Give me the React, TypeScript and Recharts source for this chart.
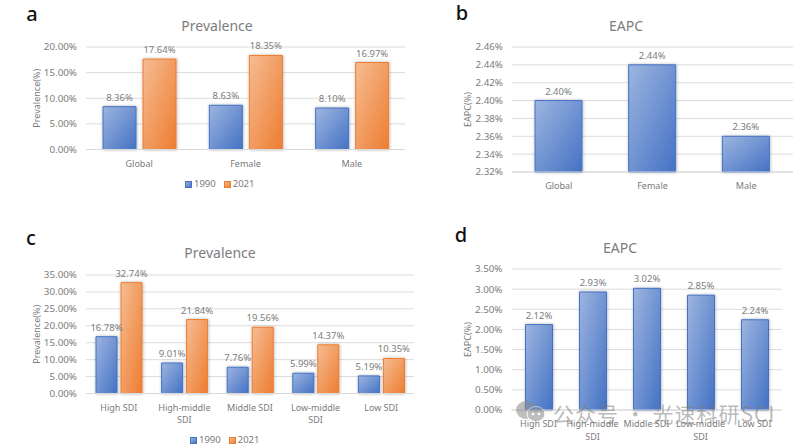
import React from "react";
import { BarChart, Bar, XAxis, YAxis, CartesianGrid, LabelList, Legend, Label } from "recharts";

const catsOverall = ["Global", "Female", "Male"];
const prev1990Overall = [8.36, 8.63, 8.1];
const prev2021Overall = [17.64, 18.35, 16.97];
const eapcOverall = [2.4, 2.44, 2.36];
const catsSdi = ["High SDI", "High-middle SDI", "Middle SDI", "Low-middle SDI", "Low SDI"];
const prev1990Sdi = [16.78, 9.01, 7.76, 5.99, 5.19];
const prev2021Sdi = [32.74, 21.84, 19.56, 14.37, 10.35];
const eapcSdi = [2.12, 2.93, 3.02, 2.85, 2.24];
const ticksA = [0, 5, 10, 15, 20];
const ticksB = [2.32, 2.34, 2.36, 2.38, 2.4, 2.42, 2.44, 2.46];
const ticksC = [0, 5, 10, 15, 20, 25, 30, 35];
const ticksD = [0, 0.5, 1, 1.5, 2, 2.5, 3, 3.5];

const FONT = "'Noto Sans', sans-serif";
const GRAY = "#7c7c7c";
const pct = (v: number) => `${v.toFixed(2)}%`;

const wrapLabel = (s: string) => {
  const m = s.match(/^(.*-middle) (SDI)$/);
  return m ? [m[1], m[2]] : [s];
};

function XTick(props: any) {
  const { x, y, payload } = props;
  return (
    <text x={x} y={y + 9} textAnchor="middle" fontSize={9} fill={GRAY} fontFamily={FONT}>
      {wrapLabel(payload.value).map((l, i) => (
        <tspan key={i} x={x} dy={i === 0 ? 0 : 12.5}>{l}</tspan>
      ))}
    </text>
  );
}

function LegendContent(props: any) {
  const { payload } = props;
  return (
    <div style={{ display: "flex", alignItems: "center", fontFamily: FONT, fontSize: 9.5, color: GRAY, lineHeight: "12px" }}>
      {(payload ?? []).map((e: any, i: number) => (
        <div key={i} style={{ display: "flex", alignItems: "center", marginRight: 8 }}>
          <svg width={7} height={7} style={{ marginRight: 2 }}>
            <rect x={0.5} y={0.5} width={6} height={6} fill={e.color} stroke={e.payload?.stroke} strokeWidth={1} />
          </svg>
          <span>{e.value}</span>
        </div>
      ))}
    </div>
  );
}

function Defs({ id }: { id: string }) {
  return (
    <defs>
      <linearGradient id={`blue${id}`} x1="0" y1="0" x2="1" y2="1">
        <stop offset="0%" stopColor="#9DB5E0" />
        <stop offset="100%" stopColor="#4472C4" />
      </linearGradient>
      <linearGradient id={`orange${id}`} x1="0" y1="0" x2="1" y2="1">
        <stop offset="0%" stopColor="#F6BC92" />
        <stop offset="100%" stopColor="#ED7D31" />
      </linearGradient>
      <filter id={`sh${id}`} x="-20%" y="-10%" width="140%" height="120%">
        <feDropShadow dx="0.5" dy="0" stdDeviation="1.4" floodColor="#000" floodOpacity="0.3" />
      </filter>
    </defs>
  );
}

type PanelProps = {
  id: string; left: number; top: number; width: number; height: number;
  plotLeft: number; plotRight: number; plotTop: number; plotBottom: number;
  cats: string[]; a: number[]; b?: number[]; ticks: number[]; domain: [number, number];
  yLabel: string; yLabelX: number; barSize: number; barGap?: number;
  legendLeft?: number; legendTop?: number;
};

function Panel(p: PanelProps) {
  const data = p.cats.map((c, i) => ({ c, y1990: p.a[i], y2021: p.b ? p.b[i] : undefined }));
  return (
    <div style={{ position: "absolute", left: p.left, top: p.top }}>
      <BarChart
        width={p.width}
        height={p.height}
        data={data}
        barSize={p.barSize}
        barGap={p.barGap ?? 4}
        margin={{ left: 0, top: p.plotTop - p.top, right: p.left + p.width - p.plotRight, bottom: 0 }}
      >
        <Defs id={p.id} />
        <CartesianGrid vertical={false} stroke="#dcdcdc" strokeWidth={1} />
        <XAxis
          dataKey="c"
          interval={0}
          height={p.top + p.height - p.plotBottom}
          tick={<XTick />}
          tickLine={false}
          axisLine={{ stroke: "#d9d9d9" }}
        />
        <YAxis
          width={p.plotLeft - p.left}
          domain={p.domain}
          ticks={p.ticks}
          interval={0}
          tickFormatter={pct}
          tick={{ fontSize: 9.8, fill: GRAY, fontFamily: FONT }}
          tickLine={false}
          axisLine={false}
          tickMargin={3}
        >
          <Label
            value={p.yLabel}
            angle={-90}
            position="insideLeft"
            offset={p.yLabelX - p.left}
            style={{ fontSize: 9, fill: GRAY, fontFamily: FONT, textAnchor: "middle" }}
          />
        </YAxis>
        {p.b && (
          <Legend
            verticalAlign="middle"
            align="center"
            content={<LegendContent />}
            wrapperStyle={{ position: "absolute", left: p.legendLeft, top: p.legendTop, width: 90 }}
          />
        )}
        <Bar
          dataKey="y1990"
          name="1990"
          fill={`url(#blue${p.id})`}
          stroke="#4472C4"
          strokeWidth={1}
          filter={`url(#sh${p.id})`}
          isAnimationActive={false}
        >
          <LabelList dataKey="y1990" position="top" offset={6} formatter={pct as any} style={{ fontSize: 9.5, fill: GRAY, fontFamily: FONT }} />
        </Bar>
        {p.b && (
          <Bar
            dataKey="y2021"
            name="2021"
            fill={`url(#orange${p.id})`}
            stroke="#ED7D31"
            strokeWidth={1}
            filter={`url(#sh${p.id})`}
            isAnimationActive={false}
          >
            <LabelList dataKey="y2021" position="top" offset={6} formatter={pct as any} style={{ fontSize: 9.5, fill: GRAY, fontFamily: FONT }} />
          </Bar>
        )}
      </BarChart>
    </div>
  );
}

function Caption({ text, x, y, size, color, weight }: { text: string; x: number; y: number; size: number; color: string; weight?: number }) {
  return (
    <div style={{
      position: "absolute", left: x - 100, top: y - size / 2, width: 200, height: size, lineHeight: `${size}px`,
      textAlign: "center", fontSize: size, color, fontWeight: weight ?? 400, fontFamily: FONT,
    }}>{text}</div>
  );
}

export default function App() {
  return (
    <div style={{ position: "absolute", left: 0, top: 0, width: 795, height: 447, background: "#fff", overflow: "hidden" }}>
      <Panel id="a" left={0} top={20} width={420} height={175}
        plotLeft={86} plotRight={405} plotTop={47} plotBottom={149.5}
        cats={catsOverall} a={prev1990Overall} b={prev2021Overall} ticks={ticksA} domain={[0, 20]}
        yLabel="Prevalence(%)" yLabelX={37} barSize={33} barGap={7} legendLeft={185} legendTop={158} />
      <Panel id="b" left={425} top={20} width={370} height={175}
        plotLeft={512} plotRight={793} plotTop={47} plotBottom={172}
        cats={catsOverall} a={eapcOverall} ticks={ticksB} domain={[2.32, 2.46]}
        yLabel="EAPC(%)" yLabelX={468} barSize={47} />
      <Panel id="c" left={0} top={245} width={430} height={202}
        plotLeft={86} plotRight={414} plotTop={275} plotBottom={393.5}
        cats={catsSdi} a={prev1990Sdi} b={prev2021Sdi} ticks={ticksC} domain={[0, 35]}
        yLabel="Prevalence(%)" yLabelX={37} barSize={21} barGap={4} legendLeft={190} legendTop={189} />
      <Panel id="d" left={425} top={245} width={370} height={202}
        plotLeft={511.5} plotRight={781.5} plotTop={269} plotBottom={410}
        cats={catsSdi} a={eapcSdi} ticks={ticksD} domain={[0, 3.5]}
        yLabel="EAPC(%)" yLabelX={468} barSize={27} />
      <Caption text="Prevalence" x={217} y={26} size={14} color={GRAY} />
      <Caption text="EAPC" x={626} y={26} size={14} color={GRAY} />
      <Caption text="Prevalence" x={220} y={253} size={14} color={GRAY} />
      <Caption text="EAPC" x={620} y={248} size={14} color={GRAY} />
      <Caption text="a" x={32} y={14} size={20} color="#111" weight={500} />
      <Caption text="b" x={462} y={13} size={20} color="#111" weight={500} />
      <Caption text="c" x={31} y={238} size={20} color="#111" weight={500} />
      <Caption text="d" x={461} y={235} size={20} color="#111" weight={500} />
      <svg style={{ position: "absolute", left: 515, top: 400, opacity: 0.55 }} width={34} height={24}>
        <ellipse cx={11} cy={10} rx={10} ry={9} fill="#8a8a8a" />
        <ellipse cx={21} cy={14} rx={9} ry={7.5} fill="#8a8a8a" stroke="#fff" strokeWidth={1} />
        <circle cx={18} cy={14} r={1.3} fill="#fff" />
        <circle cx={24} cy={14} r={1.3} fill="#fff" />
      </svg>
      <div style={{
        position: "absolute", left: 553, top: 400, fontSize: 21, lineHeight: "26px", whiteSpace: "nowrap",
        color: "rgba(120,120,120,0.5)", fontFamily: "'Noto Sans CJK SC', sans-serif", letterSpacing: 1,
      }}>公众号 · 光速科研SCI</div>
    </div>
  );
}
